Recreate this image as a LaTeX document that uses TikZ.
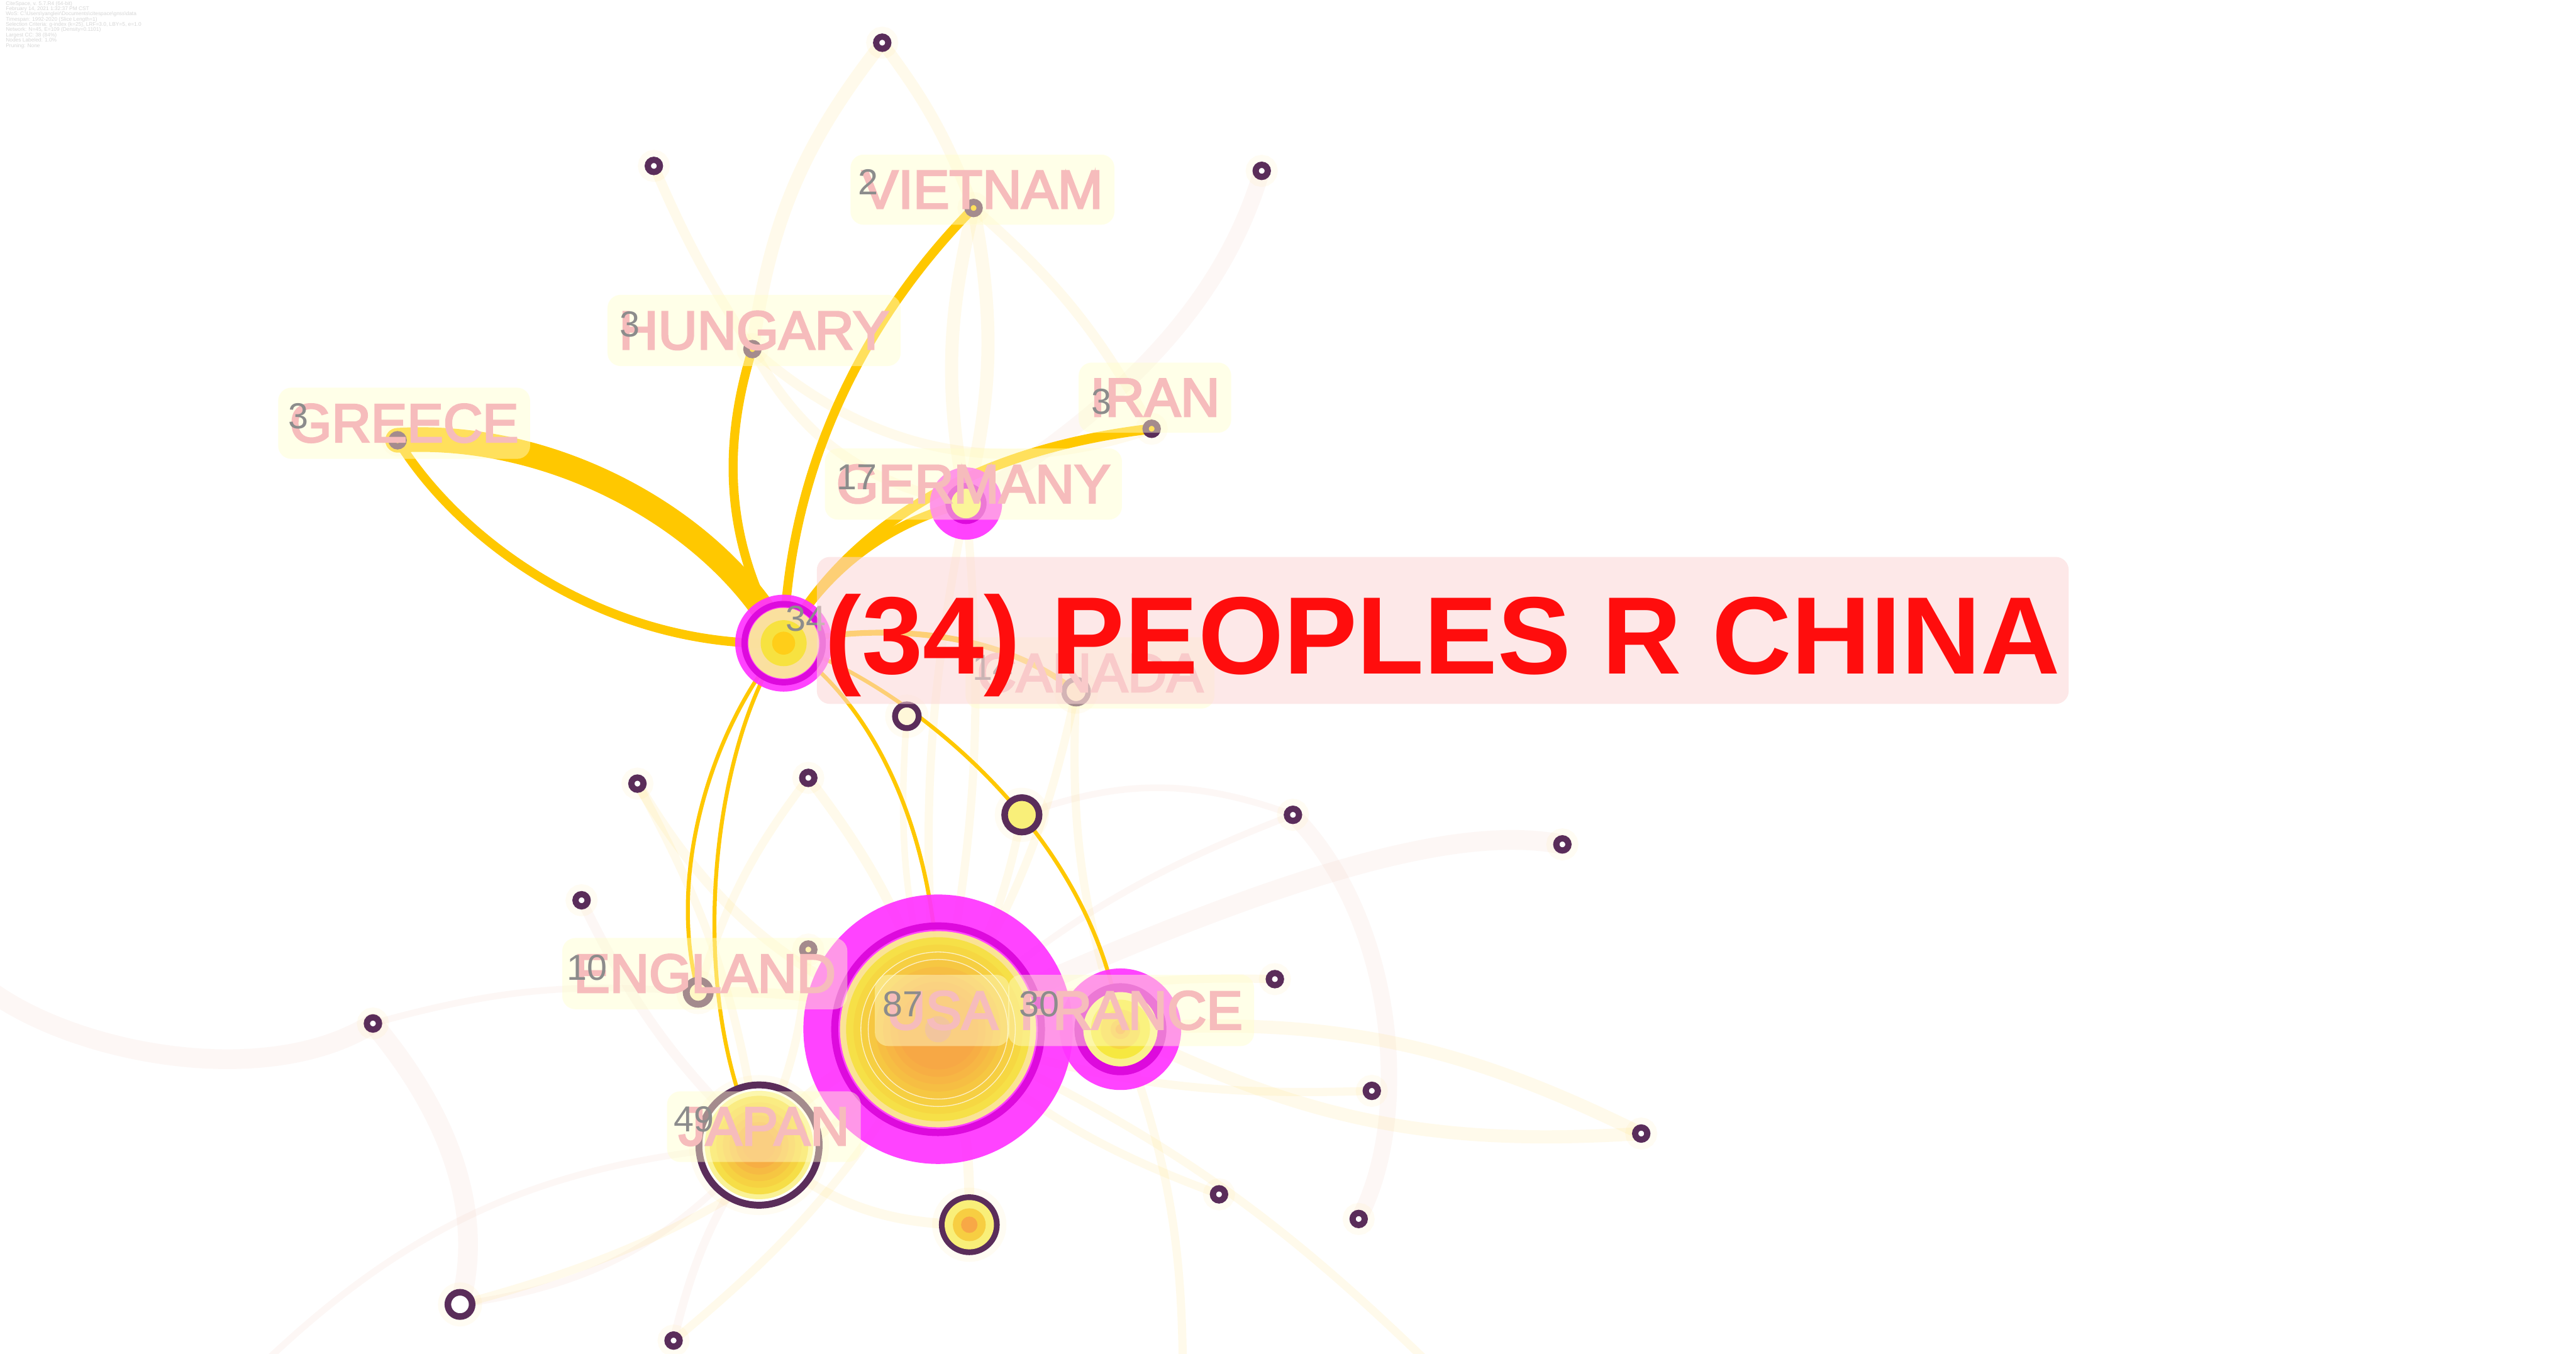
\documentclass[tikz,border=0pt]{standalone}
\usepackage{fontspec}
\setmainfont{Liberation Sans}
\newfontfamily\tagfont[BoldFont={Liberation Sans},BoldFeatures={FakeBold=3.5}]{Liberation Sans}
\usetikzlibrary{backgrounds}
\definecolor{LinkGold}{RGB}{255,200,0}
\definecolor{BurstMag}{RGB}{255,51,255}
\definecolor{BurstDark}{RGB}{221,10,221}
\definecolor{RingPurple}{RGB}{90,45,90}
\definecolor{TagPink}{RGB}{246,188,188}
\definecolor{CountGray}{RGB}{140,140,140}
\definecolor{TagBox}{RGB}{255,255,205}
\definecolor{ChinaBox}{RGB}{252,214,214}
\definecolor{ChinaRed}{RGB}{255,13,13}
\definecolor{HazeYellow}{RGB}{255,215,60}
\definecolor{HazePink}{RGB}{235,160,140}
\definecolor{CoreYellow}{RGB}{246,232,64}
\definecolor{CoreOrange}{RGB}{248,168,70}
\definecolor{CorePink}{RGB}{232,150,125}
\definecolor{InfoGray}{RGB}{215,215,215}

\begin{document}
\begin{tikzpicture}[x=1pt,y=-1pt,
  cowork/.style={draw=LinkGold,line width=#1,line cap=round},
  cowork/.default=5.5pt,
  haze/.style={draw=HazeYellow,line width=#1,opacity=.10,line cap=round},
  haze/.default=6pt,
  hazep/.style={draw=HazePink,line width=#1,opacity=.08,line cap=round},
  hazep/.default=10pt,
  site/.style={circle,draw=RingPurple,line width=3.8pt,fill=white,inner sep=0pt,minimum size=7.4pt,
               preaction={draw=HazeYellow,line width=12pt,opacity=.06}},
  burst/.style={circle,fill=BurstMag,fill opacity=.92,inner sep=0pt,minimum size=#1},
  nametag/.style={font=\tagfont\bfseries\fontsize{33}{33}\selectfont,text=TagPink,fill=TagBox,fill opacity=.45,
                  text opacity=1,rounded corners=8pt,inner xsep=7pt,inner ysep=10pt,anchor=base},
  tally/.style={font=\fontsize{22}{22}\selectfont,text=CountGray,inner sep=0pt,anchor=base west},
]
\useasboundingbox (0,0) rectangle (1568,824);

% run header
\node[anchor=north west,align=left,inner sep=0pt,text=InfoGray,
      font=\fontsize{3.2}{3.2}\selectfont] (info) at (3.4,0.6)
  {CiteSpace, v. 5.7.R4 (64-bit)\\
   February 14, 2021 1:32:37 PM CST\\
   WoS: C:\textbackslash Users\textbackslash yangleir\textbackslash Documents\textbackslash citespace\textbackslash gnss\textbackslash data\\
   Timespan: 1992-2020 (Slice Length=1)\\
   Selection Criteria: g-index (k=25), LRF=3.0, LBY=5, e=1.0\\
   Network: N=45, E=109 (Density=0.1101)\\
   Largest CC: 38 (84\%)\\
   Nodes Labeled: 1.0\%\\
   Pruning: None};

% hubs with burst rings
\node[burst=59pt] (china) at (477,391.5) {};
\draw[BurstDark,line width=3.7pt] (china.center) circle (23.85pt);
\fill[CoreYellow!55!white,opacity=.9] (china.center) circle (21.5pt);
\fill[CoreYellow!85!LinkGold,opacity=.9] (china.center) circle (14pt);
\fill[LinkGold!90!white] (china.center) circle (7pt);

\node[burst=164pt] (usa) at (571,626.5) {};
\draw[BurstDark,line width=4.3pt] (usa.center) circle (62.9pt);
\fill[CoreYellow!60!white,opacity=.92] (usa.center) circle (59.7pt);
\foreach \r [count=\k] in {56,51.5,47,42.5,38,33.5,29,24.5,20,15.5} {
  \pgfmathtruncatemacro\mix{min(100,\k*13)}
  \fill[CoreOrange!\mix!CoreYellow,opacity=.92] (usa.center) circle (\r pt);
}
\draw[white,line width=.5pt,opacity=.7] (usa.center) circle (42.5pt) (usa.center) circle (47pt);
\fill[CorePink,opacity=.9] (usa.center) circle (8pt);

\node[burst=74pt] (france) at (682,626.5) {};
\draw[BurstDark,line width=5.4pt] (france.center) circle (25.3pt);
\fill[CoreYellow!60!white] (france.center) circle (22.6pt);
\fill[CoreYellow] (france.center) circle (18pt);
\fill[CoreOrange!30!CoreYellow] (france.center) circle (12pt);
\fill[CoreOrange!60!CoreYellow] (france.center) circle (6pt);
\fill[CoreOrange] (france.center) circle (3pt);

\node[burst=44pt] (germany) at (588,306.5) {};
\draw[BurstDark,line width=3.5pt] (germany.center) circle (10.75pt);
\fill[CoreYellow!75!white] (germany.center) circle (9pt);

\node[site,line width=4.2pt,minimum size=73.2pt] (japan) at (462,697) {};
\fill[CoreYellow!60!white,opacity=.92] (japan.center) circle (33pt);
\foreach \r [count=\k] in {30,26,22,18,14,10} {
  \pgfmathtruncatemacro\mix{min(100,\k*18)}
  \fill[CoreOrange!\mix!CoreYellow,opacity=.92] (japan.center) circle (\r pt);
}

% labelled sites
\node[site,line width=4.2pt,minimum size=14.6pt,fill=LinkGold!25!white] (england) at (425,604) {};
\node[site,line width=3.2pt,minimum size=14.8pt,fill=LinkGold!20!white] (canada) at (655,421) {};
\node[site,fill=LinkGold] (greece) at (242,268) {};
\node[site,fill=LinkGold] (hungary) at (458,212.5) {};
\node[site,fill=LinkGold] (vietnam) at (592.6,126.6) {};
\node[site,fill=LinkGold] (iran) at (701,261) {};

% unlabelled sites
\node[site] (s1) at (537,26) {};
\node[site] (s2) at (398,101) {};
\node[site] (s3) at (768,104) {};
\node[site,line width=3.6pt,minimum size=14.4pt,fill=LinkGold!15!white] (s4) at (552,436) {};
\node[site,line width=4pt,minimum size=21pt,fill=CoreYellow!70!white] (s5) at (622,496) {};
\node[site] (s6) at (388,477) {};
\node[site] (s7) at (492,473.5) {};
\node[site] (s8) at (787,496) {};
\node[site] (s9) at (951,514) {};
\node[site] (s10) at (354,548) {};
\node[site,fill=LinkGold!40!white] (s11) at (492,578) {};
\node[site] (s12) at (227,623) {};
\node[site] (s13) at (776,596) {};
\node[site] (s14) at (835,664) {};
\node[site] (s15) at (999,690) {};
\node[site] (s16) at (742,727) {};
\node[site] (s17) at (827,742) {};
\node[site,minimum size=33.2pt] (s18) at (590,745.5) {};
\fill[CoreYellow!70!white] (s18.center) circle (15pt);
\fill[CoreOrange!40!CoreYellow] (s18.center) circle (10pt);
\fill[CoreOrange] (s18.center) circle (5pt);
\node[site,line width=4pt,minimum size=14.8pt] (s19) at (280,794) {};
\node[site] (s20) at (410,816) {};

% links, under the nodes
\begin{scope}[on background layer]
\fill[white] (0,0) rectangle (1568,824);
\coordinate (west-end) at (-10,600);
\coordinate (south-a) at (720,840);
\coordinate (south-b) at (880,840);
\coordinate (south-c) at (150,840);
\draw[haze=7pt] (s1.center) to[bend left=8] (vietnam.center);
\draw[haze=8pt] (s1.center) to[bend right=15] (hungary.center);
\draw[haze=6pt] (s2.center) to[bend right=5] (hungary.center);
\draw[hazep=10pt] (s3.center) .. controls (740,200) and (660,260) .. (germany.center);
\draw[haze=8pt] (vietnam.center) to[bend left=12] (germany.center);
\draw[haze=8pt] (vietnam.center) to[bend right=12] (germany.center);
\draw[haze=6pt] (vietnam.center) to[bend left=10] (iran.center);
\draw[haze=6pt] (hungary.center) to[bend right=25] (germany.center);
\draw[haze=6pt] (hungary.center) to[bend right=30] (iran.center);
\draw[hazep=12pt] (s9.center) .. controls (880,500) and (760,540) .. (usa.center);
\draw[hazep=10pt] (s8.center) .. controls (850,560) and (860,680) .. (s17.center);
\draw[hazep=4pt] (s5.center) to[bend left=20] (s8.center);
\draw[hazep=4pt] (s8.center) to[bend right=10] (usa.center);
\draw[haze=8pt] (s15.center) to[bend right=15] (france.center);
\draw[haze=8pt] (s15.center) to[bend left=15] (france.center);
\draw[haze=5pt] (s14.center) to[bend left=10] (usa.center);
\draw[haze=5pt] (s13.center) to[bend right=10] (usa.center);
\draw[haze=5pt] (s16.center) to[bend left=10] (usa.center);
\draw[hazep=12pt] (west-end) .. controls (40,640) and (160,665) .. (s12.center);
\draw[hazep=12pt] (s12.center) .. controls (275,680) and (295,740) .. (s19.center);
\draw[hazep=4pt] (s12.center) to[bend left=10] (england.center);
\draw[hazep=4pt] (s19.center) to[bend right=20] (japan.center);
\draw[haze=5pt] (s19.center) to[bend right=15] (usa.center);
\draw[haze=5pt] (s20.center) to[bend right=10] (usa.center);
\draw[hazep=5pt] (s20.center) to[bend left=10] (japan.center);
\draw[hazep=6pt] (s10.center) to[bend right=10] (japan.center);
\draw[haze=6pt] (s6.center) to[bend right=20] (usa.center);
\draw[haze=5pt] (s6.center) to[bend left=10] (japan.center);
\draw[haze=6pt] (s7.center) to[bend left=10] (usa.center);
\draw[haze=5pt] (s7.center) to[bend right=10] (england.center);
\draw[haze=5pt] (s11.center) to[bend left=10] (japan.center);
\draw[haze=6pt] (s18.center) to[bend right=10] (usa.center);
\draw[haze=6pt] (s18.center) to[bend left=20] (japan.center);
\draw[haze=8pt] (japan.center) to[bend left=15] (usa.center);
\draw[haze=6pt] (england.center) to[bend left=10] (usa.center);
\draw[haze=6pt] (france.center) to[bend right=30] (usa.center);
\draw[haze=5pt] (canada.center) to[bend left=10] (usa.center);
\draw[haze=5pt] (canada.center) to[bend right=10] (france.center);
\draw[haze=5pt] (germany.center) to[bend right=8] (usa.center);
\draw[haze=5pt] (germany.center) to[bend left=8] (usa.center);
\draw[haze=5pt] (s5.center) to[bend left=10] (usa.center);
\draw[haze=4pt] (s4.center) to[bend right=10] (usa.center);
\draw[haze=5pt] (france.center) to[bend left=10] (south-a);
\draw[haze=5pt] (usa.center) to[bend left=10] (south-b);
\draw[hazep=4pt] (japan.center) to[bend right=20] (south-c);
% China's strong ties
\draw[cowork=15pt] (greece.center) .. controls (340,262) and (440,320) .. (china.center);
\draw[cowork] (greece.center) .. controls (280,330) and (370,395) .. (china.center);
\draw[cowork] (hungary.center) .. controls (440,270) and (440,330) .. (china.center);
\draw[cowork] (vietnam.center) .. controls (530,190) and (480,280) .. (china.center);
\draw[cowork=6pt] (china.center) .. controls (510,330) and (580,275) .. (iran.center);
\draw[cowork] (china.center) .. controls (505,340) and (550,315) .. (germany.center);
\draw[cowork=3.5pt] (china.center) .. controls (540,378) and (610,385) .. (canada.center);
\draw[cowork=2.4pt] (china.center) .. controls (540,410) and (665,500) .. (france.center);
\draw[cowork=2.4pt] (china.center) .. controls (530,425) and (575,510) .. (usa.center);
\draw[cowork=2.4pt] (china.center) .. controls (435,440) and (405,530) .. (england.center);
\draw[cowork=2.4pt] (china.center) .. controls (435,450) and (415,600) .. (japan.center);
\end{scope}

% labels
\node[nametag] (greece-tag) at (246,269) {GREECE};
\node[nametag] (hungary-tag) at (459,212.5) {HUNGARY};
\node[nametag] (vietnam-tag) at (598,126.8) {VIETNAM};
\node[nametag] (iran-tag) at (703,253.4) {IRAN};
\node[nametag] (germany-tag) at (592.5,306) {GERMANY};
\node[nametag] (canada-tag) at (663.5,421) {CANADA};
\node[nametag] (england-tag) at (429,604) {ENGLAND};
\node[nametag] (usa-tag) at (573.5,626.4) {USA};
\node[nametag] (france-tag) at (688.5,626.4) {FRANCE};
\node[nametag] (japan-tag) at (465,697) {JAPAN};

\node[tally] (greece-n) at (175.5,261) {3};
\node[tally] (hungary-n) at (377,205) {3};
\node[tally] (vietnam-n) at (522,118.5) {2};
\node[tally] (iran-n) at (664,252) {3};
\node[tally] (germany-n) at (509,298) {17};
\node[tally] (canada-n) at (592,414) {14};
\node[tally] (england-n) at (345,596.6) {10};
\node[tally] (usa-n) at (537,619) {87};
\node[tally] (france-n) at (620,619) {30};
\node[tally] (japan-n) at (410,689) {49};
\node[tally] (china-n) at (478,384) {34};

\node[anchor=base west,font=\bfseries\fontsize{67}{67}\selectfont,text=ChinaRed,
      fill=ChinaBox,fill opacity=.55,text opacity=1,rounded corners=8pt,
      inner xsep=5pt,inner ysep=4.5pt,text height=66.5pt,text depth=14pt]
      (china-tag) at (497,410) {(34) PEOPLES R CHINA};
\end{tikzpicture}
\end{document}
